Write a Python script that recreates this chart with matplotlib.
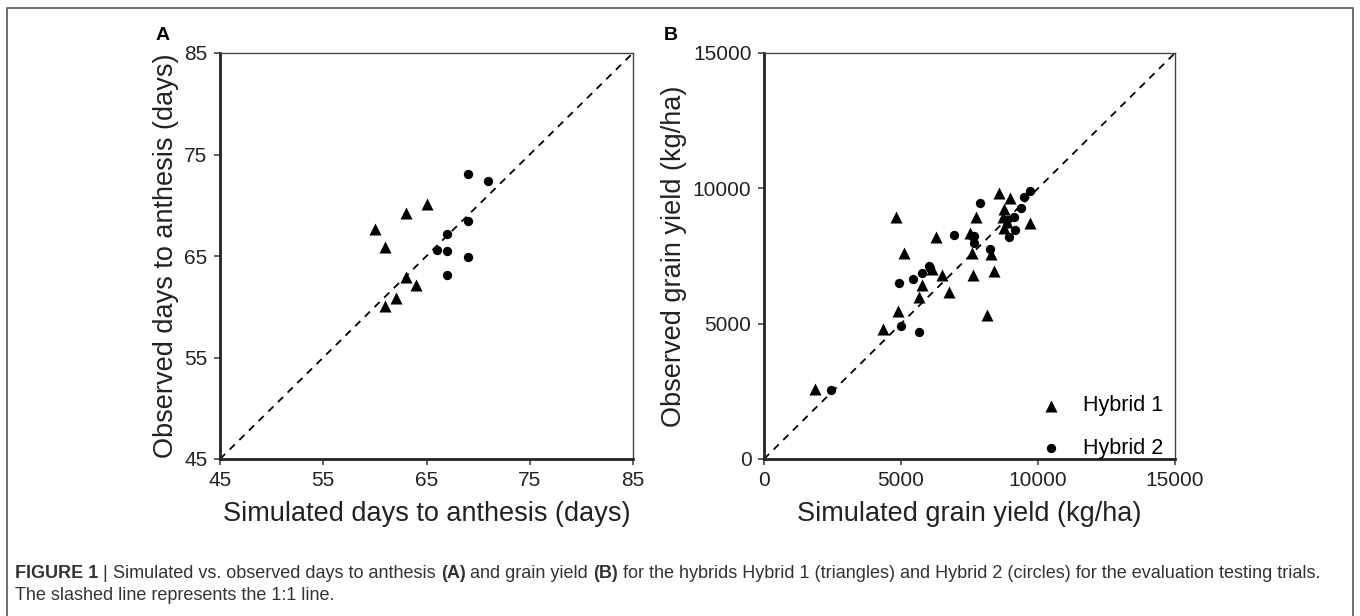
import numpy as np
import matplotlib
matplotlib.use("Agg")
import matplotlib.pyplot as plt
from matplotlib.lines import Line2D

plt.rcParams['font.family'] = ['Liberation Sans', 'DejaVu Sans']

# panel A: days to anthesis (simulated, observed)
days_h1_sim = [60, 61, 63, 65, 63, 64, 62, 61]
days_h1_obs = [67.7, 65.9, 69.2, 70.1, 62.9, 62.1, 60.9, 60.1]
days_h2_sim = [69, 71, 69, 67, 66, 67, 69, 67]
days_h2_obs = [73.1, 72.4, 68.4, 67.2, 65.6, 65.5, 64.9, 63.1]

# panel B: grain yield kg/ha (simulated, observed)
yield_h1_sim = [1870, 4830, 5100, 6280, 4330, 4890, 5670, 5760, 6130, 6490, 6760, 7630,
                7600, 7500, 7720, 8130, 8300, 8410, 8590, 8990, 8750, 8720, 8870, 8770, 9690]
yield_h1_obs = [2570, 8950, 7620, 8190, 4790, 5470, 6000, 6430, 7010, 6800, 6160, 6800,
                7600, 8340, 8930, 5320, 7570, 6960, 9840, 9650, 9220, 8930, 8770, 8520, 8730]
yield_h2_sim = [2460, 4920, 5010, 5670, 5450, 5750, 6010, 6060, 6920, 7600, 7660, 7650,
                7890, 8260, 8940, 9140, 9170, 9370, 9500, 9690, 8870]
yield_h2_obs = [2550, 6510, 4910, 4680, 6650, 6870, 7120, 7040, 8280, 8240, 8240, 7990,
                9440, 7760, 8210, 8930, 8460, 9290, 9680, 9890, 8830]

days_ticks = [45, 55, 65, 75, 85]
yield_ticks = [0, 5000, 10000, 15000]

W, H = 1360, 616
fig = plt.figure(figsize=(W / 100, H / 100), dpi=100)

# outer frame (open at the bottom)
fig.add_artist(Line2D([7 / W, 7 / W, 1353 / W, 1353 / W], [0, 1 - 8 / H, 1 - 8 / H, 0],
                      color='#555555', lw=1.2, transform=fig.transFigure))

ax_a = fig.add_axes([220 / W, 1 - 459 / H, 413 / W, 406 / H])
ax_b = fig.add_axes([764 / W, 1 - 459 / H, 411 / W, 406 / H])


def style_axes(ax, ticks, xlabel, ylabel):
    lim = (ticks[0], ticks[-1])
    ax.plot(lim, lim, ls=(0, (4, 3.5)), color='black', lw=1.3, zorder=1)
    ax.set_xlim(lim)
    ax.set_ylim(lim)
    ax.set_xticks(ticks)
    ax.set_yticks(ticks)
    ax.tick_params(direction='out', length=4.5, width=1.3, color='#555555',
                   labelsize=15, labelcolor='#222222')
    ax.tick_params(axis='x', pad=4)
    ax.tick_params(axis='y', pad=4.5)
    for side in ['left', 'bottom']:
        ax.spines[side].set_linewidth(2.0)
        ax.spines[side].set_color('#222222')
    for side in ['top', 'right']:
        ax.spines[side].set_linewidth(1.0)
        ax.spines[side].set_color('#444444')
    ax.set_xlabel(xlabel, fontsize=19.5, color='#222222', labelpad=8)
    ax.set_ylabel(ylabel, fontsize=19.5, color='#222222', labelpad=4)


ax_a.scatter(days_h1_sim, days_h1_obs, marker='^', s=75, color='black', lw=0, zorder=3)
ax_a.scatter(days_h2_sim, days_h2_obs, marker='o', s=45, color='black', lw=0, zorder=3)
style_axes(ax_a, days_ticks, 'Simulated days to anthesis (days)',
           'Observed days to anthesis (days)')

ax_b.scatter(yield_h1_sim, yield_h1_obs, marker='^', s=75, color='black', lw=0, zorder=3,
             label='Hybrid 1')
ax_b.scatter(yield_h2_sim, yield_h2_obs, marker='o', s=45, color='black', lw=0, zorder=3,
             label='Hybrid 2')
style_axes(ax_b, yield_ticks, 'Simulated grain yield (kg/ha)',
           'Observed grain yield (kg/ha)')
ax_b.legend(loc='center left', frameon=False, fontsize=15.5, handlelength=2.0,
            handletextpad=0.47, labelspacing=1.0, borderpad=0, scatterpoints=1,
            bbox_to_anchor=(1019 / W, 1 - 427 / H), bbox_transform=fig.transFigure)

fig.text(163 / W, 1 - 35 / H, 'A', fontsize=14, fontweight='bold', ha='center', va='center')
fig.text(671 / W, 1 - 35 / H, 'B', fontsize=14, fontweight='bold', ha='center', va='center')

# caption with mixed bold / regular pieces
renderer = fig.canvas.get_renderer()


def rich_line(x_px, y_px, pieces):
    x = x_px
    for txt, bold in pieces:
        t = fig.text(x / W, 1 - y_px / H, txt, fontsize=13, color='#333333',
                     fontweight='bold' if bold else 'normal', va='center', ha='left')
        bb = t.get_window_extent(renderer=renderer)
        x += bb.width


rich_line(15, 573, [
    ('FIGURE 1 ', True), ('| ', False),
    ('Simulated vs. observed days to anthesis ', False), ('(A)', True),
    (' and grain yield ', False), ('(B)', True),
    (' for the hybrids Hybrid 1 (triangles) and Hybrid 2 (circles) for the evaluation testing trials.', False),
])
rich_line(15, 596, [('The slashed line represents the 1:1 line.', False)])

fig.savefig('out.png', dpi=100)
